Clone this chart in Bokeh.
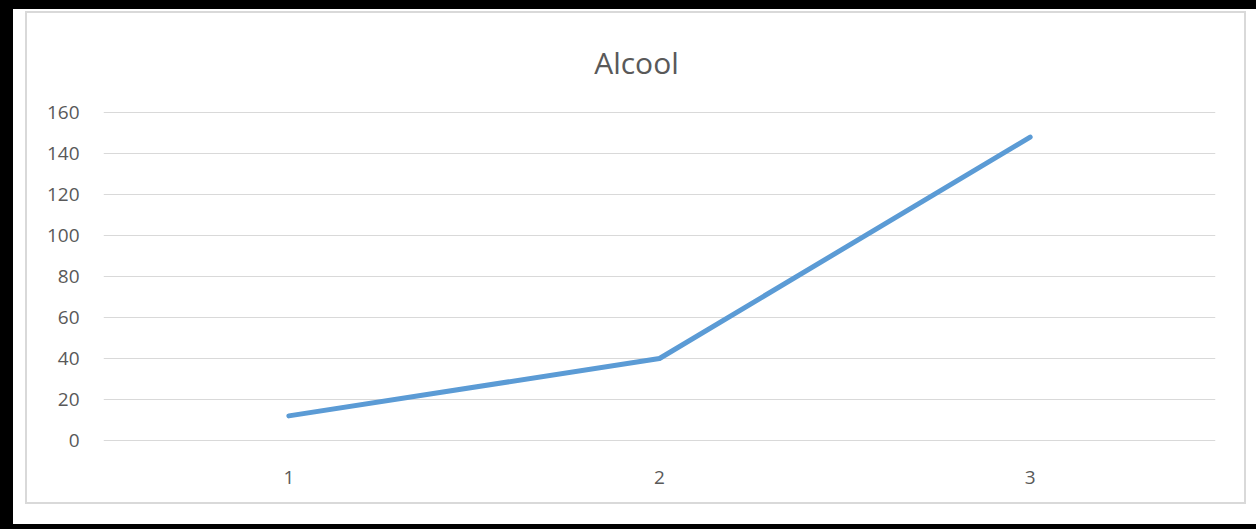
from bokeh.plotting import figure
from bokeh.layouts import column
from bokeh.models import Range1d, FixedTicker, Label, FactorRange
from bokeh.embed import file_html
from bokeh.resources import INLINE

# Chart data
categories = ["1", "2", "3"]
alcool = [12, 40, 148]
y_ticks = [0, 20, 40, 60, 80, 100, 120, 140, 160]
title_text = "Alcool"

LABEL_COLOR = "#595959"
GRID_COLOR = "#d9d9d9"
FONT = "Open Sans"

# Chart area (inside the light gray frame); the y range reaches above 160
# so that the title can sit inside the plotting frame.
p = figure(
    width=1217, height=489,
    x_range=FactorRange(*categories),
    y_range=Range1d(-0.5, 208.3),
    output_backend="svg",
    toolbar_location=None,
    min_border_left=76, min_border_right=29,
    min_border_top=0, min_border_bottom=61,
    background_fill_color="white", border_fill_color="white",
    styles={"outline": "2px solid #d9d9d9"},
)
p.outline_line_color = None

# Series line
p.line(categories, alcool, line_color="#5B9BD5", line_width=5,
       line_cap="round", line_join="round")

# Axes
p.yaxis.ticker = FixedTicker(ticks=y_ticks)
for ax in (p.xaxis[0], p.yaxis[0]):
    ax.axis_line_color = None
    ax.major_tick_line_color = None
    ax.minor_tick_line_color = None
    ax.major_tick_in = 0
    ax.major_tick_out = 0
    ax.minor_tick_in = 0
    ax.minor_tick_out = 0
    ax.major_label_text_font = FONT
    ax.major_label_text_font_size = "19px"
    ax.major_label_text_color = LABEL_COLOR
p.yaxis.major_label_standoff = 24
p.xaxis.major_label_standoff = 29

p.xgrid.grid_line_color = None
p.ygrid.grid_line_color = GRID_COLOR
p.ygrid.grid_line_width = 1

# Title, positioned relative to the plotting frame
p.add_layout(Label(x=533, y=379, x_units="screen", y_units="screen",
                   text=title_text, text_font=FONT, text_font_size="30px",
                   text_color=LABEL_COLOR, text_align="center",
                   text_baseline="alphabetic"))

# Page: black edges and white margin around the chart area
page = column(p, styles={
    "background-color": "white",
    "border-left": "13px solid black",
    "border-top": "9px solid black",
    "border-bottom": "5px solid black",
    "padding": "4px 13px 22px 14px",
})

open("out.html", "w").write(file_html(page, INLINE))
